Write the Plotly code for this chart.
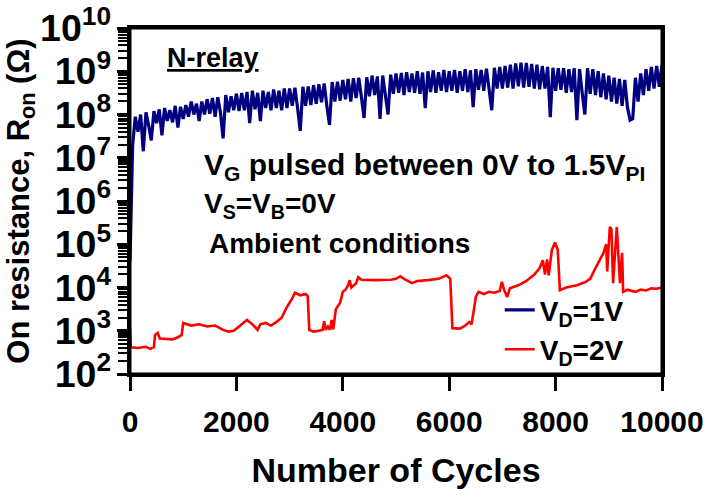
import plotly.graph_objects as go

# ---------------- data ----------------
# V_D = 1V : log10(R_on / ohm), sampled every 50 cycles from 0 to 10000
blue_step = 50
blue_log10_ohm = [
    4.6, 7.3, 7.95, 7.6, 8.0, 7.15, 8.05, 7.75, 7.4, 8.08, 7.8, 8.12, 7.52, 8.15, 7.85, 8.1, 7.82, 8.2, 7.7, 8.18,
    7.9, 8.22, 7.95, 8.3, 8.0, 8.25, 7.85, 8.3, 8.0, 8.35, 8.02, 8.38, 7.95, 8.4, 8.05, 7.45, 8.45, 8.05, 8.42, 8.1,
    8.48, 8.08, 8.5, 8.1, 8.52, 7.8, 8.55, 8.12, 8.5, 7.85, 8.55, 8.15, 8.52, 8.1, 8.58, 8.15, 8.55, 8.1, 8.6, 8.15,
    8.6, 8.2, 8.62, 8.15, 7.62, 8.64, 8.2, 8.65, 8.22, 8.68, 8.25, 8.7, 8.28, 8.72, 8.2, 7.76, 8.75, 8.3, 8.76, 8.32,
    8.8, 8.35, 8.82, 8.3, 8.84, 8.38, 8.85, 8.4, 7.92, 8.86, 8.42, 8.9, 8.45, 8.88, 7.9, 8.9, 8.45, 8.0, 8.92, 8.48,
    8.95, 8.5, 8.96, 8.45, 8.98, 8.52, 8.95, 8.5, 9.0, 8.48, 8.97, 8.15, 9.0, 8.52, 9.02, 8.5, 8.98, 8.55, 9.03, 8.52,
    9.0, 8.55, 9.03, 8.5, 9.0, 8.55, 9.05, 8.52, 9.02, 8.17, 9.05, 8.57, 9.03, 8.55, 9.06, 8.58, 8.1, 9.08, 8.6, 9.1,
    8.6, 9.12, 8.62, 9.15, 8.6, 9.18, 8.65, 9.2, 8.62, 9.19, 8.64, 9.17, 8.6, 9.15, 8.58, 9.12, 8.6, 9.1, 7.94, 9.08,
    8.55, 9.07, 8.57, 9.07, 8.5, 9.05, 8.52, 9.07, 7.87, 9.05, 8.5, 8.0, 9.07, 8.48, 9.05, 8.45, 9.0, 8.4, 8.95, 8.35,
    8.9, 8.3, 8.85, 8.25, 8.82, 8.2, 8.8, 8.17, 7.87, 7.9, 8.85, 8.3, 8.95, 8.45, 9.05, 8.55, 9.1, 8.6, 9.12, 8.64, 9.14,
]
blue_cycles = [i * blue_step for i in range(len(blue_log10_ohm))]

# V_D = 2V : (cycle, log10(R_on / ohm))
red_cycles = [
    0, 15, 150, 300, 380, 450, 470, 520, 560, 800, 900, 970, 1000, 1150, 1300, 1450, 1600, 1750, 1850, 1950,
    2050, 2150, 2200, 2300, 2400, 2450, 2550, 2650, 2750, 2850, 2950, 3050, 3100, 3200, 3300, 3340, 3370, 3450,
    3550, 3620, 3650, 3680, 3720, 3760, 3790, 3820, 3870, 3950, 4000, 4050, 4100, 4130, 4160, 4250, 4290, 4350,
    4600, 4900, 5000, 5080, 5150, 5300, 5400, 5600, 5800, 5950, 6020, 6060, 6200, 6300, 6380, 6420, 6460, 6500,
    6550, 6650, 6750, 6850, 6950, 6990, 7030, 7090, 7140, 7300, 7450, 7600, 7700, 7760, 7800, 7840, 7870, 7930,
    7990, 8040, 8080, 8200, 8400, 8550, 8650, 8750, 8900, 8950, 8970, 9020, 9050, 9080, 9150, 9210, 9250, 9270,
    9350, 9500, 9600, 9700, 9800, 9900, 10000,
]
red_log10_ohm = [
    3.08, 2.62, 2.6, 2.63, 2.58, 2.62, 2.9, 2.95, 2.82, 2.8, 2.85, 2.9, 3.18, 3.12, 3.15, 3.1, 3.12, 3.02, 2.98, 3.0,
    3.1, 3.2, 3.25, 3.15, 3.02, 3.15, 3.18, 3.12, 3.2, 3.3, 3.55, 3.75, 3.88, 3.82, 3.85, 3.8, 3.02, 2.98,
    3.0, 3.02, 3.22, 3.02, 3.1, 3.02, 3.25, 3.03, 3.5, 3.65, 3.9, 3.95, 4.05, 4.17, 4.0, 4.1, 4.24, 4.18,
    4.17, 4.18, 4.2, 4.26, 4.2, 4.1, 4.15, 4.17, 4.2, 4.28, 4.2, 3.06, 3.05, 3.12, 3.2, 3.15, 3.45, 3.78,
    3.9, 3.85, 3.9, 3.88, 3.92, 4.13, 3.95, 3.78, 3.98, 4.05, 4.15, 4.3, 4.45, 4.63, 4.3, 4.65, 4.28, 4.87,
    5.04, 4.87, 3.94, 4.0, 4.05, 4.12, 4.2, 4.45, 4.8, 5.0, 4.37, 5.4, 5.35, 4.1, 5.4, 4.1, 4.8, 3.9,
    3.95, 3.9, 3.95, 3.93, 3.98, 3.97, 4.0,
]

series_names = ["V<sub>D</sub>=1V", "V<sub>D</sub>=2V"]
x_tick_values = [0, 2000, 4000, 6000, 8000, 10000]
y_range_log10 = [2, 10]

FONT = "Liberation Sans, Arial, sans-serif"

fig = go.Figure()
fig.add_trace(go.Scatter(
    x=blue_cycles, y=[10 ** v for v in blue_log10_ohm], mode="lines",
    name=series_names[0], line=dict(color="#000080", width=3.2, simplify=False),
))
fig.add_trace(go.Scatter(
    x=red_cycles, y=[10 ** v for v in red_log10_ohm], mode="lines",
    name=series_names[1], line=dict(color="#ff0000", width=2.6, simplify=False),
))

fig.update_layout(
    width=711, height=499,
    margin=dict(l=130, r=49, t=28, b=125),
    paper_bgcolor="white", plot_bgcolor="white",
    font=dict(family=FONT, color="black", weight="bold"),
    xaxis=dict(
        range=[0, 10000], tickvals=x_tick_values, ticktext=[str(v) for v in x_tick_values],
        showgrid=False, zeroline=False, showline=True, linecolor="black", linewidth=3, mirror=True,
        ticks="outside", ticklen=14, tickwidth=3, tickcolor="black", automargin=False,
        tickfont=dict(family=FONT, size=30, color="black", weight="bold"), ticklabelstandoff=5,
        title=dict(text="Number of Cycles", font=dict(family=FONT, size=34, color="black", weight="bold"), standoff=22),
    ),
    yaxis=dict(
        type="log", range=y_range_log10, dtick=1, exponentformat="power",
        showgrid=False, zeroline=False, showline=True, linecolor="black", linewidth=3, mirror=True,
        ticks="outside", ticklen=10, tickwidth=3, tickcolor="black", automargin=False,
        minor=dict(ticks="outside", ticklen=9, tickwidth=2, tickcolor="black", dtick="D1", showgrid=False),
        tickfont=dict(family=FONT, size=30, color="black", weight="bold"),
        title=dict(text="On resistance, R<sub>on</sub> (Ω)", font=dict(family=FONT, size=31, color="black", weight="bold"), standoff=1),
    ),
    legend=dict(
        x=0.695, y=0.257, xanchor="left", yanchor="top",
        font=dict(family=FONT, size=28, color="black", weight="bold"),
        bgcolor="rgba(0,0,0,0)", itemwidth=30, tracegroupgap=0,
    ),
    showlegend=True,
)

# frame around the plotting area (top and right edges of the box)
fig.add_shape(type="rect", xref="paper", yref="paper", x0=0, x1=1, y0=0, y1=1,
              line=dict(color="black", width=3), fillcolor="rgba(0,0,0,0)", layer="above")

ann_font = dict(family=FONT, size=28, color="black", weight="bold")
fig.add_annotation(xref="paper", yref="paper", x=0.066, y=0.913, xanchor="left", yanchor="middle",
                   text="N-relay", showarrow=False,
                   font=dict(family=FONT, size=27, color="black", weight="bold", lineposition="under"))
fig.add_annotation(xref="paper", yref="paper", x=0.135, y=0.599, xanchor="left", yanchor="middle",
                   text="V<sub>G</sub> pulsed between 0V to 1.5V<sub>PI</sub>", showarrow=False,
                   font=dict(family=FONT, size=30, color="black", weight="bold"))
fig.add_annotation(xref="paper", yref="paper", x=0.135, y=0.486, xanchor="left", yanchor="middle",
                   text="V<sub>S</sub>=V<sub>B</sub>=0V", showarrow=False, font=ann_font)
fig.add_annotation(xref="paper", yref="paper", x=0.145, y=0.376, xanchor="left", yanchor="middle",
                   text="Ambient conditions", showarrow=False, font=ann_font)

# remove the default 8px page margin so the 711x499 figure fills the window exactly
fig.write_html("out.html", config={"displayModeBar": False},
               post_script="document.body.style.margin='0';document.body.style.overflow='hidden';")
